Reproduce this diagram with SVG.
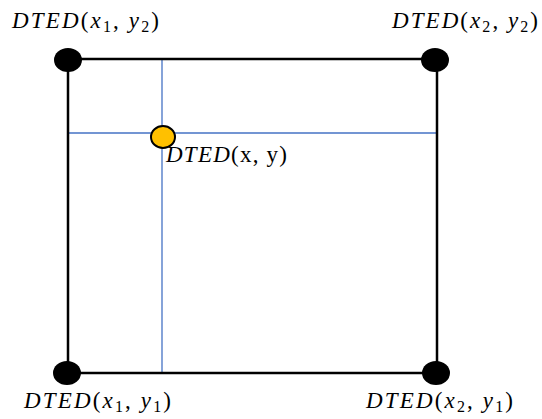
<svg xmlns="http://www.w3.org/2000/svg" width="542" height="419" viewBox="0 0 542 419">
<style>
.lbl{font-family:"Liberation Serif","DejaVu Serif",serif;font-size:23px;fill:#000}
.it{font-style:italic}
.sub{font-size:16px}
.frame{fill:none;stroke:#000;stroke-width:2.5}
.grid{stroke:#4472C4;stroke-width:1.3}
.dot{fill:#000}
</style>
<rect width="542" height="419" fill="#fff"/>
<g id="connectors">
<line class="grid" x1="162" y1="59" x2="162" y2="373"/>
<line class="grid" x1="68" y1="133" x2="437" y2="133"/>
<rect class="frame" x="68" y="59" width="369" height="314"/>
</g>
<g id="p12">
<ellipse class="dot" cx="68" cy="60" rx="14" ry="12"/>
<text class="lbl" x="12" y="28" textLength="147" lengthAdjust="spacing"><tspan class="it">DTED</tspan>(<tspan class="it">x</tspan><tspan class="sub" dy="4">1</tspan><tspan dy="-4">, </tspan><tspan class="it">y</tspan><tspan class="sub" dy="4">2</tspan><tspan dy="-4">)</tspan></text>
</g>
<g id="p22">
<ellipse class="dot" cx="435" cy="60" rx="14" ry="12"/>
<text class="lbl" x="392" y="28" textLength="146" lengthAdjust="spacing"><tspan class="it">DTED</tspan>(<tspan class="it">x</tspan><tspan class="sub" dy="4">2</tspan><tspan dy="-4">, </tspan><tspan class="it">y</tspan><tspan class="sub" dy="4">2</tspan><tspan dy="-4">)</tspan></text>
</g>
<g id="p11">
<ellipse class="dot" cx="67" cy="373" rx="14" ry="12"/>
<text class="lbl" x="24" y="408" textLength="147" lengthAdjust="spacing"><tspan class="it">DTED</tspan>(<tspan class="it">x</tspan><tspan class="sub" dy="4">1</tspan><tspan dy="-4">, </tspan><tspan class="it">y</tspan><tspan class="sub" dy="4">1</tspan><tspan dy="-4">)</tspan></text>
</g>
<g id="p21">
<ellipse class="dot" cx="436" cy="373" rx="14" ry="12"/>
<text class="lbl" x="366" y="408" textLength="147" lengthAdjust="spacing"><tspan class="it">DTED</tspan>(<tspan class="it">x</tspan><tspan class="sub" dy="4">2</tspan><tspan dy="-4">, </tspan><tspan class="it">y</tspan><tspan class="sub" dy="4">1</tspan><tspan dy="-4">)</tspan></text>
</g>
<g id="pxy">
<ellipse cx="163" cy="137" rx="12" ry="11" fill="#FFC000" stroke="#000" stroke-width="2"/>
<text class="lbl" x="166" y="162" textLength="121" lengthAdjust="spacing"><tspan class="it">DTED</tspan>(x, y)</text>
</g>
</svg>
